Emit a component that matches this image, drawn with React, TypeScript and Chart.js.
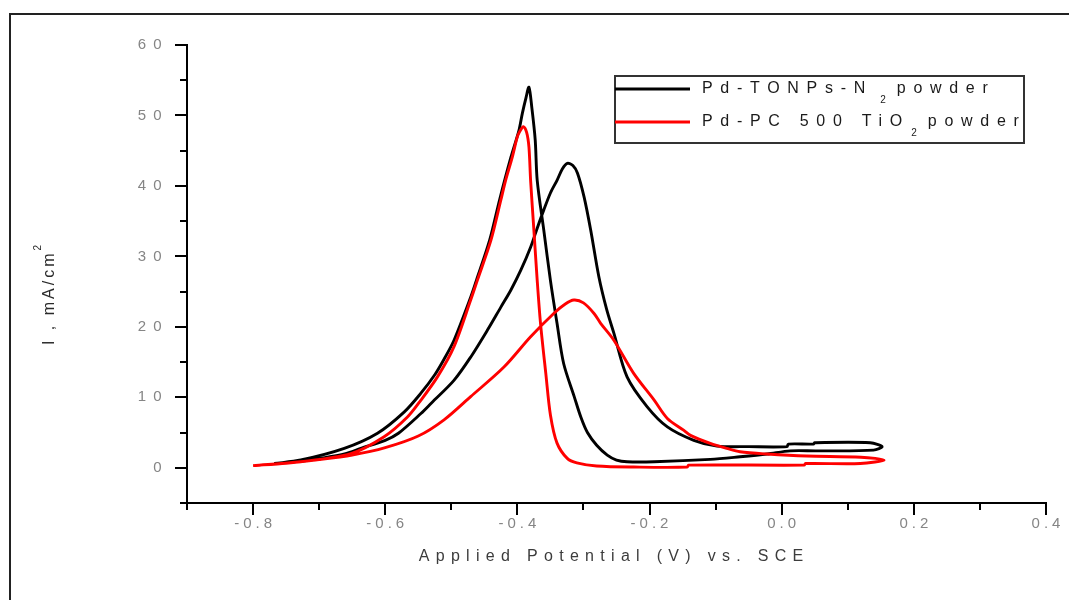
import React, { useEffect, useRef } from 'react';
import { Chart, registerables } from 'chart.js';

Chart.register(...registerables);

// Pd-TONPs-N2 powder: potential (V vs SCE) and current density (mA/cm2), one CV loop
const tonpsPotential = [
  -0.768, -0.73, -0.7, -0.66, -0.637, -0.6, -0.58, -0.546, -0.53, -0.496, -0.47, -0.4455, -0.425, -0.41, -0.395,
  -0.38, -0.37, -0.36, -0.35, -0.34, -0.332, -0.3245, -0.316, -0.309, -0.299, -0.289, -0.2767, -0.265, -0.254,
  -0.234, -0.2035, -0.173, -0.133, -0.098, -0.05, 0.008, 0.01, 0.048, 0.05, 0.134, 0.152,
  0.139, 0.053, 0.013, -0.022, -0.063, -0.108, -0.193, -0.234, -0.25, -0.264, -0.28, -0.294, -0.304, -0.314, -0.33,
  -0.34, -0.35, -0.36, -0.37, -0.373, -0.378, -0.3825, -0.387, -0.3925, -0.3976, -0.41, -0.427, -0.442, -0.462,
  -0.4707, -0.4959, -0.511, -0.525, -0.5463, -0.5715, -0.6117, -0.662, -0.7277, -0.768,
];
const tonpsCurrent = [
  0.6, 0.9, 1.3, 2.0, 2.75, 3.9, 4.9, 7.7, 9.2, 12.4, 15.8, 19.5, 22.8, 25.2, 28.0,
  31.3, 34.0, 36.6, 39.0, 40.8, 42.4, 43.2, 42.9, 41.8, 38.4, 33.7, 27.1, 22.5, 19.1,
  12.9, 8.65, 5.8, 3.9, 3.08, 3.0, 3.0, 3.36, 3.36, 3.55, 3.55, 3.0,
  2.5, 2.4, 2.4, 1.95, 1.56, 1.19, 0.85, 0.85, 1.1, 1.8, 3.2, 5.0, 7.2, 10.1, 14.8,
  20.5, 26.6, 33.7, 40.8, 46.5, 51.0, 54.0, 52.5, 50.3, 47.9, 44.0, 38.0, 32.3, 26.6,
  24.2, 18.1, 15.4, 13.2, 10.55, 7.9, 4.9, 2.75, 1.1, 0.6,
];

// Pd-PC 500 TiO2 powder
const pc500Potential = [
  -0.8, -0.75, -0.7, -0.65, -0.6, -0.55, -0.511, -0.4707, -0.4203, -0.38, -0.345, -0.328, -0.3145, -0.3, -0.284,
  -0.274, -0.254, -0.224, -0.193, -0.173, -0.148, -0.138, -0.108, -0.083, -0.063, -0.022, 0.038, 0.12, 0.155,
  0.119, 0.036, 0.034, -0.141, -0.143, -0.224, -0.28, -0.31, -0.3245, -0.34, -0.35, -0.357, -0.365, -0.37, -0.375,
  -0.38, -0.3825, -0.386, -0.391, -0.396, -0.4, -0.4077, -0.4178, -0.425, -0.44, -0.4606, -0.4707, -0.4959,
  -0.521, -0.546, -0.5664, -0.6017, -0.652, -0.7277, -0.8,
];
const pc500Current = [
  0.3, 0.65, 1.15, 1.8, 2.85, 4.5, 6.8, 10.1, 14.3, 18.6, 21.9, 23.2, 23.8, 23.4, 21.9,
  20.5, 18.1, 13.4, 9.6, 7.0, 5.3, 4.6, 3.46, 2.75, 2.27, 1.95, 1.66, 1.5, 1.1,
  0.6, 0.6, 0.38, 0.38, 0.1, 0.1, 0.25, 0.7, 1.33, 3.5, 7.5, 13.4, 20.5, 26.6, 33.7,
  40.8, 45.5, 47.6, 48.4, 47.8, 47.0, 44.1, 40.8, 38.0, 32.3, 26.6, 23.8, 17.2,
  12.9, 9.6, 7.2, 4.4, 2.0, 0.85, 0.3,
];

const xMajorTicks = [-0.8, -0.6, -0.4, -0.2, 0.0, 0.2, 0.4];
const xTickLabels = ['-0.8', '-0.6', '-0.4', '-0.2', '0.0', '0.2', '0.4'];
const xMinorTicks = [-0.9, -0.7, -0.5, -0.3, -0.1, 0.1, 0.3];
const yMajorTicks = [0, 10, 20, 30, 40, 50, 60];
const yTickLabels = ['0', '10', '20', '30', '40', '50', '60'];
const yMinorTicks = [-5, 5, 15, 25, 35, 45, 55];

// label parts: [text, subscript, text]
const tonpsLabel = ['Pd-TONPs-N', '2', 'powder'];
const pc500Label = ['Pd-PC 500 TiO', '2', 'powder'];
const xAxisTitle = 'Applied Potential (V) vs. SCE';
const yAxisTitle = ['I , mA/cm', '2'];

const FONT = "'Liberation Sans', Arial, sans-serif";

function inkWidth(ctx: CanvasRenderingContext2D, text: string, spacing: number) {
  ctx.letterSpacing = '0px';
  return ctx.measureText(text).width + spacing * (text.length - 1);
}

function drawSpaced(ctx: CanvasRenderingContext2D, text: string, x: number, y: number, spacing: number) {
  ctx.letterSpacing = spacing + 'px';
  ctx.textAlign = 'left';
  ctx.fillText(text, x, y);
  ctx.letterSpacing = '0px';
}

const decorPlugin = {
  id: 'decor',
  afterDraw(chart: any) {
    const ctx: CanvasRenderingContext2D = chart.ctx;
    const { left, bottom } = chart.chartArea;
    const xs = chart.scales.x;
    const ys = chart.scales.y;
    ctx.save();

    // outer frame
    ctx.strokeStyle = '#222';
    ctx.lineWidth = 2;
    ctx.beginPath();
    ctx.moveTo(10, 610);
    ctx.lineTo(10, 14);
    ctx.lineTo(1080, 14);
    ctx.stroke();

    // minor ticks
    ctx.strokeStyle = '#000';
    ctx.lineWidth = 2;
    ctx.beginPath();
    yMinorTicks.forEach((v) => {
      const p = Math.round(ys.getPixelForValue(v));
      ctx.moveTo(left - 7, p);
      ctx.lineTo(left, p);
    });
    xMinorTicks.forEach((v) => {
      const p = Math.round(xs.getPixelForValue(v));
      ctx.moveTo(p, bottom);
      ctx.lineTo(p, bottom + 7);
    });
    ctx.stroke();

    // tick labels
    ctx.fillStyle = '#858585';
    ctx.font = `15px ${FONT}`;
    ctx.textBaseline = 'middle';
    yMajorTicks.forEach((v, i) => {
      const t = yTickLabels[i];
      const w = inkWidth(ctx, t, 7);
      drawSpaced(ctx, t, 161.5 - w, ys.getPixelForValue(v), 7);
    });
    xMajorTicks.forEach((v, i) => {
      const t = xTickLabels[i];
      const w = inkWidth(ctx, t, 4);
      drawSpaced(ctx, t, xs.getPixelForValue(v) - w / 2, 524, 4);
    });

    // x axis title
    ctx.fillStyle = '#3c3c3c';
    ctx.font = `16px ${FONT}`;
    const xw = inkWidth(ctx, xAxisTitle, 6.3);
    drawSpaced(ctx, xAxisTitle, 611 - xw / 2, 557, 6.3);

    // y axis title (rotated)
    ctx.save();
    ctx.translate(50, 295);
    ctx.rotate(-Math.PI / 2);
    ctx.fillStyle = '#2a2a2a';
    ctx.font = `16px ${FONT}`;
    const w1 = inkWidth(ctx, yAxisTitle[0], 3);
    ctx.font = `10px ${FONT}`;
    const w2 = inkWidth(ctx, yAxisTitle[1], 0);
    const x0 = -(w1 + 3 + w2) / 2;
    ctx.font = `16px ${FONT}`;
    drawSpaced(ctx, yAxisTitle[0], x0, 0, 3);
    ctx.font = `10px ${FONT}`;
    drawSpaced(ctx, yAxisTitle[1], x0 + w1 + 3, -12, 0);
    ctx.restore();

    // legend
    const lx = 615, ly = 76, lw = 409, lh = 67;
    ctx.strokeStyle = '#333';
    ctx.lineWidth = 2;
    ctx.strokeRect(lx, ly, lw, lh);
    const rows = [
      { parts: tonpsLabel, color: chart.data.datasets[0].borderColor, y: 89, gap: 15 },
      { parts: pc500Label, color: chart.data.datasets[1].borderColor, y: 122, gap: 9 },
    ];
    rows.forEach((r) => {
      ctx.strokeStyle = r.color;
      ctx.lineWidth = 3;
      ctx.beginPath();
      ctx.moveTo(lx, r.y);
      ctx.lineTo(690, r.y);
      ctx.stroke();
      ctx.fillStyle = '#1a1a1a';
      ctx.font = `16px ${FONT}`;
      let x = 702;
      drawSpaced(ctx, r.parts[0], x, r.y, 7.7);
      x += inkWidth(ctx, r.parts[0], 7.7) + r.gap;
      ctx.font = `10px ${FONT}`;
      drawSpaced(ctx, r.parts[1], x, r.y + 11, 0);
      x += inkWidth(ctx, r.parts[1], 0) + 11;
      ctx.font = `16px ${FONT}`;
      drawSpaced(ctx, r.parts[2], x, r.y, 7.7);
    });

    ctx.restore();
  },
};

export default function App() {
  const ref = useRef<HTMLCanvasElement>(null);
  useEffect(() => {
    const canvas = ref.current;
    if (!canvas) return;
    const axisCommon = {
      type: 'linear' as const,
      ticks: { display: false },
      grid: {
        display: true,
        drawOnChartArea: false,
        drawTicks: true,
        tickLength: 12,
        lineWidth: 2,
        color: '#000',
      },
      border: { display: true, color: '#000', width: 2 },
    };
    const chart = new Chart(canvas, {
      type: 'scatter',
      data: {
        datasets: [
          {
            label: 'Pd-TONPs-N2 powder',
            data: tonpsPotential.map((x, i) => ({ x, y: tonpsCurrent[i] })),
            showLine: true,
            borderColor: '#000000',
            backgroundColor: '#000000',
            borderWidth: 2.9,
            pointRadius: 0,
            tension: 0.3,
            order: 1,
          },
          {
            label: 'Pd-PC 500 TiO2 powder',
            data: pc500Potential.map((x, i) => ({ x, y: pc500Current[i] })),
            showLine: true,
            borderColor: '#ff0000',
            backgroundColor: '#ff0000',
            borderWidth: 2.9,
            pointRadius: 0,
            tension: 0.3,
            order: 0,
          },
        ],
      },
      options: {
        responsive: false,
        animation: false,
        devicePixelRatio: 1,
        layout: { padding: { left: 0, right: 23, top: 45, bottom: 0 } },
        plugins: {
          legend: { display: false },
          tooltip: { enabled: false },
          title: { display: false },
        },
        scales: {
          x: {
            ...axisCommon,
            min: -0.9,
            max: 0.4,
            afterBuildTicks: (s: any) => {
              s.ticks = xMajorTicks.map((v) => ({ value: v }));
            },
            afterFit: (s: any) => {
              s.height = 97;
            },
          },
          y: {
            ...axisCommon,
            min: -5,
            max: 60,
            afterBuildTicks: (s: any) => {
              s.ticks = yMajorTicks.map((v) => ({ value: v }));
            },
            afterFit: (s: any) => {
              s.width = 187;
            },
          },
        },
      } as any,
      plugins: [decorPlugin],
    });
    return () => chart.destroy();
  }, []);
  return (
    <div style={{ position: 'absolute', left: 0, top: 0, width: 1069, height: 600, background: '#fff', overflow: 'hidden' }}>
      <canvas ref={ref} width={1069} height={600} style={{ display: 'block' }} />
    </div>
  );
}
